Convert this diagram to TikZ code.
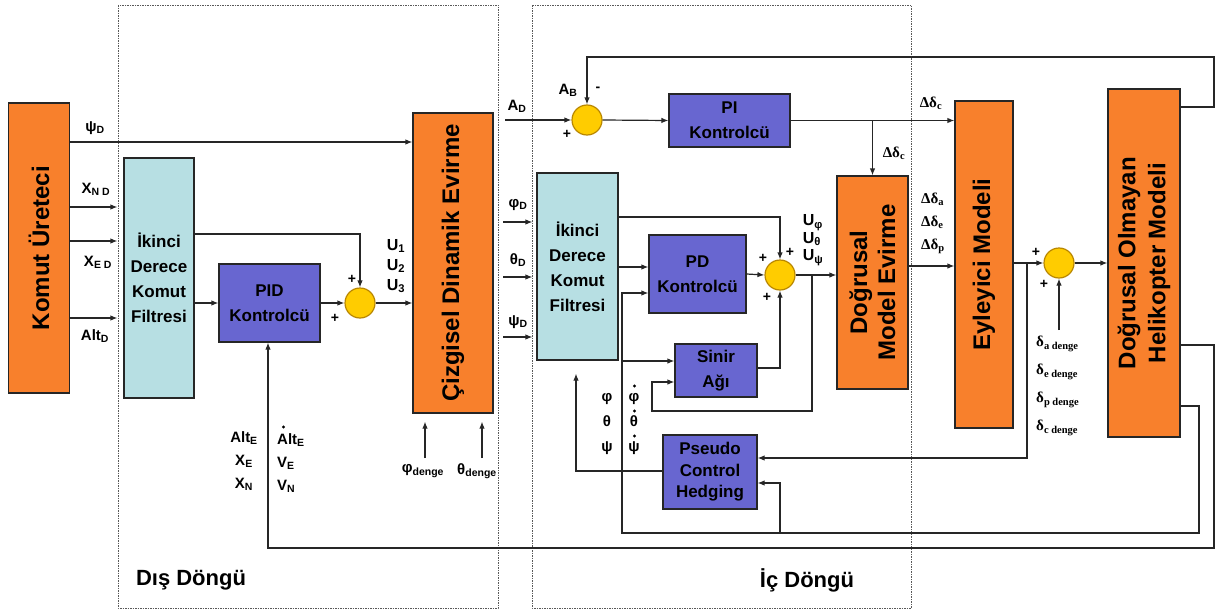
\documentclass[tikz,border=0pt]{standalone}
\usepackage{fontspec}
\usepackage{graphicx}
\setmainfont{Liberation Sans}
\newfontfamily\serifb{Liberation Serif}
\usetikzlibrary{arrows.meta}
\definecolor{boxorange}{RGB}{248,128,44}
\definecolor{boxblue}{RGB}{183,223,227}
\definecolor{boxpurple}{RGB}{104,102,208}
\definecolor{sumyellow}{RGB}{255,204,0}
\definecolor{sumedge}{RGB}{185,135,0}
\begin{document}
\begin{tikzpicture}[x=1pt,y=-1pt,
  box/.style={draw=black!85, line width=1.2pt, inner sep=0pt, align=center,
    font=\bfseries\fontsize{17}{25}\selectfont},
  obox/.style={box, fill=boxorange},
  bbox/.style={box, fill=boxblue},
  pbox/.style={box, fill=boxpurple},
  vtext/.style={rotate=90, align=center, inner sep=0pt, font=\bfseries\fontsize{24}{30}\selectfont},
  sumc/.style={circle, fill=sumyellow, draw=sumedge, line width=1.2pt, minimum size=30pt, inner sep=0pt},
  arr/.style={line width=1.2pt, draw=black!85, -{Latex[length=7pt,width=5.5pt]}},
  ln/.style={line width=1.2pt, draw=black!85},
  lbl/.style={inner sep=0pt, font=\bfseries\fontsize{15}{23}\selectfont},
  dlbl/.style={inner sep=0pt, font=\serifb\bfseries\fontsize{15}{23}\selectfont},
  plus/.style={inner sep=0pt, font=\bfseries\fontsize{14}{14}\selectfont},
  title/.style={inner sep=0pt, font=\bfseries\fontsize{22}{26}\selectfont},
  loopbox/.style={draw=black!65, line width=1pt, dash pattern=on 1.5pt off 1pt}]
\useasboundingbox (0,0) rectangle (1215,613);
\fill[white] (0,0) rectangle (1215,613);

% loop frames
\draw[loopbox] (118,5) rectangle (498,608);
\draw[loopbox] (532,5) rectangle (911,608);
\node[title] (dis) at (191,580) {Dış Döngü};
\node[title] (ic) at (807,580) {İç Döngü};

% blocks
\node[obox, minimum width=61pt, minimum height=290pt] (kom) at (39,248) {};
\node[vtext] (komT) at (kom) {Komut Üreteci};
\node[bbox, minimum width=70pt, minimum height=240pt] (f1) at (159,278) {İkinci\\Derece\\Komut\\Filtresi};
\node[pbox, minimum width=101pt, minimum height=78pt] (pid) at (269.5,303) {PID\\Kontrolcü};
\node[sumc] (s1) at (360,303) {};
\node[obox, minimum width=80pt, minimum height=300pt] (cz) at (453,263) {};
\node[vtext] (czT) at (cz) {Çizgisel Dinamik Evirme};

\node[sumc] (s2) at (587,120) {};
\node[pbox, minimum width=121pt, minimum height=53pt] (pi) at (729.5,120.5) {PI\\Kontrolcü};
\node[bbox, minimum width=81pt, minimum height=187pt] (f2) at (577.5,266.5) {İkinci\\Derece\\Komut\\Filtresi};
\node[pbox, minimum width=97pt, minimum height=78pt] (pd) at (697.5,274) {PD\\Kontrolcü};
\node[sumc] (s3) at (780,275) {};
\node[pbox, minimum width=82pt, minimum height=53pt] (sn) at (716,370.5) {Sinir\\Ağı};
\node[pbox, minimum width=94pt, minimum height=74pt, font=\bfseries\fontsize{17}{21.5}\selectfont] (pch) at (710,472) {Pseudo\\Control\\Hedging};
\node[obox, minimum width=71pt, minimum height=213pt] (dme) at (872.5,282.5) {};
\node[vtext, font=\bfseries\fontsize{24}{28}\selectfont] (dmeT) at (dme) {Doğrusal\\Model Evirme};
\node[obox, minimum width=58pt, minimum height=327pt] (eyl) at (984,264.5) {};
\node[vtext] (eylT) at (eyl) {Eyleyici Modeli};
\node[sumc] (s4) at (1059,263) {};
\node[obox, minimum width=72pt, minimum height=348pt] (hel) at (1144,263) {};
\node[vtext, font=\bfseries\fontsize{24}{30}\selectfont] (helT) at (hel) {Doğrusal Olmayan\\Helikopter Modeli};

% ---------- outer loop ----------
\coordinate (psiD) at (0,142);
\draw[arr] (kom.east |- psiD) -- (cz.west |- psiD);
\node[lbl] (lpsiD) at (95,128) {ψ\textsubscript{D}};
\coordinate (xnd) at (0,207);
\coordinate (xed) at (0,241);
\coordinate (altd) at (0,318);
\draw[arr, shorten >=6pt] (kom.east |- xnd) -- (f1.west |- xnd);
\draw[arr, shorten >=6pt] (kom.east |- xed) -- (f1.west |- xed);
\draw[arr, shorten >=6pt] (kom.east |- altd) -- (f1.west |- altd);
\node[lbl] (lxnd) at (96,189) {X\textsubscript{N D}};
\node[lbl] (lxed) at (98,262) {X\textsubscript{E D}};
\node[lbl] (laltd) at (95,336) {Alt\textsubscript{D}};

\draw[arr] (f1.east |- pid.west) -- (pid.west);
\coordinate (c234) at (0,234);
\draw[arr] (f1.east |- c234) -- (s1.north |- c234) -- (s1.north);
\draw[arr] (pid.east) -- (s1.west);
\draw[arr] (s1.east) -- (cz.west |- s1.east);
\node[plus] (p1a) at (352,279) {+};
\node[plus] (p1b) at (335,318) {+};
\node[lbl, align=left, font=\bfseries\fontsize{16}{20}\selectfont] (lU) at (396,266) {U\textsubscript{1}\\U\textsubscript{2}\\U\textsubscript{3}};

\coordinate (phdS) at (425,458);
\coordinate (thdS) at (482,458);
\draw[arr, shorten >=8pt] (phdS) -- (phdS |- cz.south);
\draw[arr, shorten >=8pt] (thdS) -- (thdS |- cz.south);
\node[lbl] (lphd) at (423,471) {φ\textsubscript{denge}};
\node[lbl] (lthd) at (477,471) {θ\textsubscript{denge}};

\node[lbl, align=center] (lE1) at (244,461) {Alt\textsubscript{E}\\X\textsubscript{E}\\X\textsubscript{N}};
\node[lbl, align=left, anchor=west] (lE2) at (277,463) {Alt\textsubscript{E}\\V\textsubscript{E}\\V\textsubscript{N}};
\fill[black] (283.5,427) circle (1.6);

\coordinate (ob1) at (1214,345);
\coordinate (ob2) at (1214,548);
\coordinate (ob3) at (268,548);
\draw[arr] (hel.east |- ob1) -- (ob1) -- (ob2) -- (ob3) -- (ob3 |- pid.south);

% ---------- inner loop ----------
\coordinate (tp1) at (1214,107);
\coordinate (tp2) at (1214,57);
\draw[arr] (hel.east |- tp1) -- (tp1) -- (tp2) -- (s2.north |- tp2) -- (s2.north);
\coordinate (adS) at (505,120);
\draw[arr] (adS) -- (s2.west);
\node[lbl] (lAD) at (517,106) {A\textsubscript{D}};
\node[lbl] (lAB) at (568,90) {A\textsubscript{B}};
\node[plus] (mAB) at (598,89) {-};
\node[plus] (pAD) at (567,134) {+};
\draw[arr] (s2.east) -- (pi.west);
\draw[arr] (pi.east) -- (eyl.west |- pi.east);
\draw[arr] (dme.north |- pi.east) -- (dme.north);
\node[dlbl] (ldc1) at (931,103) {Δδ\textsubscript{c}};
\node[dlbl] (ldc2) at (894,153) {Δδ\textsubscript{c}};

\coordinate (phiDs) at (503,222);
\coordinate (thDs) at (503,277);
\coordinate (psDs) at (503,337);
\draw[arr, shorten >=4pt] (phiDs) -- (phiDs -| f2.west);
\draw[arr, shorten >=4pt] (thDs) -- (thDs -| f2.west);
\draw[arr, shorten >=4pt] (psDs) -- (psDs -| f2.west);
\node[lbl] (lphiD) at (518,205) {φ\textsubscript{D}};
\node[lbl] (lthD) at (518,260) {θ\textsubscript{D}};
\node[lbl] (lpsD) at (518,322) {ψ\textsubscript{D}};

\coordinate (c217) at (0,217);
\draw[arr] (f2.east |- c217) -- (s3.north |- c217) -- (s3.north);
\coordinate (c267) at (0,267);
\draw[arr] (f2.east |- c267) -- (pd.west |- c267);

\coordinate (ib1) at (1199,406);
\coordinate (ib2) at (1199,533);
\coordinate (ib3) at (622,533);
\coordinate (ib4) at (622,293);
\draw[arr] (hel.east |- ib1) -- (ib1) -- (ib2) -- (ib3) -- (ib4) -- (pd.west |- ib4);
\coordinate (ib5) at (622,361);
\draw[arr] (ib5) -- (sn.west |- ib5);
\coordinate (ib6) at (780,533);
\coordinate (ib7) at (780,483);
\draw[arr] (ib6) -- (ib7) -- (pch.east |- ib7);

\draw[arr] (pd.east) -- (s3.west);
\coordinate (c368) at (0,368);
\draw[arr] (sn.east |- c368) -- (s3.south |- c368) -- (s3.south);
\draw[arr] (s3.east) -- (dme.west |- s3.east);
\coordinate (u1) at (812,275);
\coordinate (u2) at (812,411);
\coordinate (u3) at (652,411);
\coordinate (u4) at (652,382);
\draw[arr] (u1) -- (u2) -- (u3) -- (u4) -- (sn.west |- u4);
\node[plus] (p3a) at (763,258) {+};
\node[plus] (p3b) at (790,252) {+};
\node[plus] (p3c) at (767,297) {+};
\node[lbl, align=left, font=\bfseries\fontsize{16}{17.5}\selectfont] (lUi) at (813,240) {U\textsubscript{φ}\\U\textsubscript{θ}\\U\textsubscript{ψ}};

\node[lbl, align=center, font=\bfseries\fontsize{15}{25}\selectfont] (lst1) at (607,424) {φ\\θ\\ψ};
\node[lbl, align=center, font=\bfseries\fontsize{15}{25}\selectfont] (lst2) at (634,424) {φ\\θ\\ψ};
\fill[black] (634.5,386) circle (1.6) (634.5,411) circle (1.6) (634.5,436) circle (1.6);

\coordinate (h1) at (576,471);
\draw[arr, shorten >=13pt] (pch.west |- h1) -- (h1) -- (h1 |- f2.south);

\coordinate (c266) at (0,266);
\draw[arr] (dme.east |- c266) -- (eyl.west |- c266);
\node[dlbl, align=left] (ldd) at (933,223) {Δδ\textsubscript{a}\\Δδ\textsubscript{e}\\Δδ\textsubscript{p}};

\draw[arr] (eyl.east |- s4.west) -- (s4.west);
\coordinate (e1) at (1027,263);
\coordinate (e2) at (1027,458);
\draw[arr] (e1) -- (e2) -- (pch.east |- e2);
\coordinate (dd) at (0,330);
\draw[arr] (s4.south |- dd) -- (s4.south);
\node[dlbl, align=left, anchor=west, font=\serifb\bfseries\fontsize{15}{28}\selectfont] (ldg) at (1036,386) {δ\textsubscript{a denge}\\δ\textsubscript{e denge}\\δ\textsubscript{p denge}\\δ\textsubscript{c denge}};
\draw[arr] (s4.east) -- (hel.west |- s4.east);
\node[plus] (p4a) at (1036,252) {+};
\node[plus] (p4b) at (1044,284) {+};
\end{tikzpicture}
\end{document}
